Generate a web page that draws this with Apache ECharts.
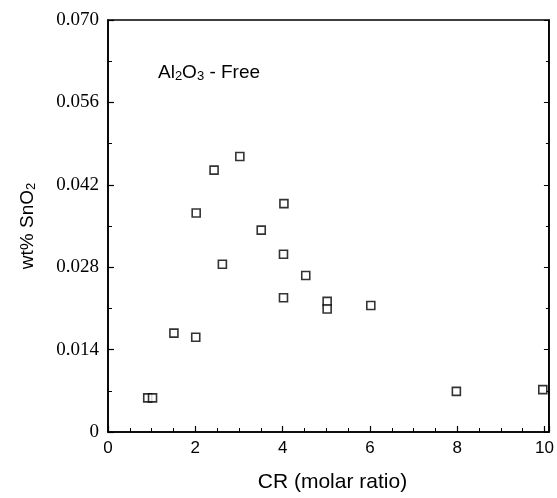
<!DOCTYPE html>
<html>
<head>
<meta charset="utf-8">
<script src="https://cdn.jsdelivr.net/npm/echarts@6/dist/echarts.min.js"></script>
<style>
  html, body { margin: 0; padding: 0; background: #fff; }
  #main { width: 557px; height: 498px; }
</style>
</head>
<body>
<div id="main"></div>
<script>
// CR (molar ratio) vs wt% SnO2, Al2O3-free
var crValues = [3.02, 2.43, 4.03, 2.02, 3.51, 4.02, 2.62, 4.53, 4.02, 5.02, 5.02, 6.02, 1.51, 2.01, 0.91, 1.02, 7.98, 9.96];
var sno2Values = [0.0468, 0.0445, 0.0388, 0.0372, 0.0343, 0.0302, 0.0285, 0.0266, 0.0228, 0.0222, 0.0209, 0.0215, 0.0168, 0.0161, 0.0058, 0.0058, 0.0069, 0.0072];
var xTicks = [0, 2, 4, 6, 8, 10];
var yTicks = [0, 0.014, 0.028, 0.042, 0.056, 0.070];

var points = [];
crValues.map(function (cr, i) {
    points.push([cr, sno2Values[i]]);
});

var myChart = echarts.init(document.getElementById('main'));
var axisLine = { show: true, lineStyle: { color: '#000', width: 1.6 } };
var option = {
    animation: false,
    backgroundColor: '#fff',
    grid: {
        left: 108,
        right: 3,
        top: 20,
        bottom: 66,
        show: true,
        borderColor: '#000',
        borderWidth: 1.6
    },
    xAxis: {
        type: 'value',
        min: 0,
        max: 10.1,
        interval: 2,
        name: 'CR (molar ratio)',
        nameLocation: 'middle',
        nameGap: 40,
        nameTextStyle: { fontFamily: 'Liberation Sans', fontSize: 21, color: '#000', padding: [0, 0, 0, 8] },
        axisLine: axisLine,
        axisTick: { inside: true, length: 6, lineStyle: { color: '#000', width: 1.2 } },
        minorTick: { show: true, splitNumber: 4, length: 4, lineStyle: { color: '#000', width: 1 } },
        splitLine: { show: false },
        axisLabel: {
            margin: 8,
            fontFamily: 'Liberation Sans',
            fontSize: 17,
            color: '#000',
            showMaxLabel: false,
            formatter: function (v) {
                return xTicks.indexOf(v) > -1 ? String(v) : '';
            }
        }
    },
    yAxis: [{
        type: 'value',
        min: 0,
        max: 0.07,
        interval: 0.014,
        name: 'wt% {s|SnO}{sub|2}',
        nameLocation: 'middle',
        nameGap: 70,
        nameRotate: 90,
        nameTextStyle: {
            fontFamily: 'Liberation Sans',
            fontSize: 19,
            color: '#000',
            rich: {
                s: { fontFamily: 'Liberation Sans', fontSize: 19, color: '#000' },
                sub: { fontFamily: 'Liberation Sans', fontSize: 13, color: '#000', verticalAlign: 'bottom', padding: [8, 0, 0, 0] }
            }
        },
        axisLine: axisLine,
        axisTick: { inside: true, length: 6, lineStyle: { color: '#000', width: 1.2 } },
        minorTick: { show: true, splitNumber: 2, length: 4, lineStyle: { color: '#000', width: 1 } },
        splitLine: { show: false },
        axisLabel: {
            margin: 9,
            fontFamily: 'Liberation Serif',
            fontSize: 19,
            color: '#000',
            formatter: function (v) {
                var t = yTicks.filter(function (y) { return Math.abs(y - v) < 1e-9; });
                if (!t.length) return '';
                return t[0] === 0 ? '0' : t[0].toFixed(3);
            }
        }
    }, {
        type: 'value',
        position: 'right',
        min: 0,
        max: 0.07,
        interval: 0.014,
        axisLine: axisLine,
        axisTick: { inside: true, length: 5, lineStyle: { color: '#000', width: 1 } },
        minorTick: { show: true, splitNumber: 2, length: 3, lineStyle: { color: '#000', width: 1 } },
        splitLine: { show: false },
        axisLabel: { show: false }
    }],
    graphic: [{
        type: 'text',
        left: 158,
        top: 63,
        style: {
            text: '{n|Al}{sub|2}{n|O}{sub|3}{n| - Free}',
            rich: {
                n: { fontFamily: 'Liberation Sans', fontSize: 19, fill: '#000' },
                sub: { fontFamily: 'Liberation Sans', fontSize: 13, fill: '#000', verticalAlign: 'bottom', padding: [8, 0, 0, 0] }
            }
        }
    }],
    series: [{
        type: 'scatter',
        data: points,
        symbol: 'rect',
        symbolSize: 8,
        itemStyle: { color: '#fff', borderColor: '#000', borderWidth: 1.6 }
    }]
};
myChart.setOption(option);
</script>
</body>
</html>
